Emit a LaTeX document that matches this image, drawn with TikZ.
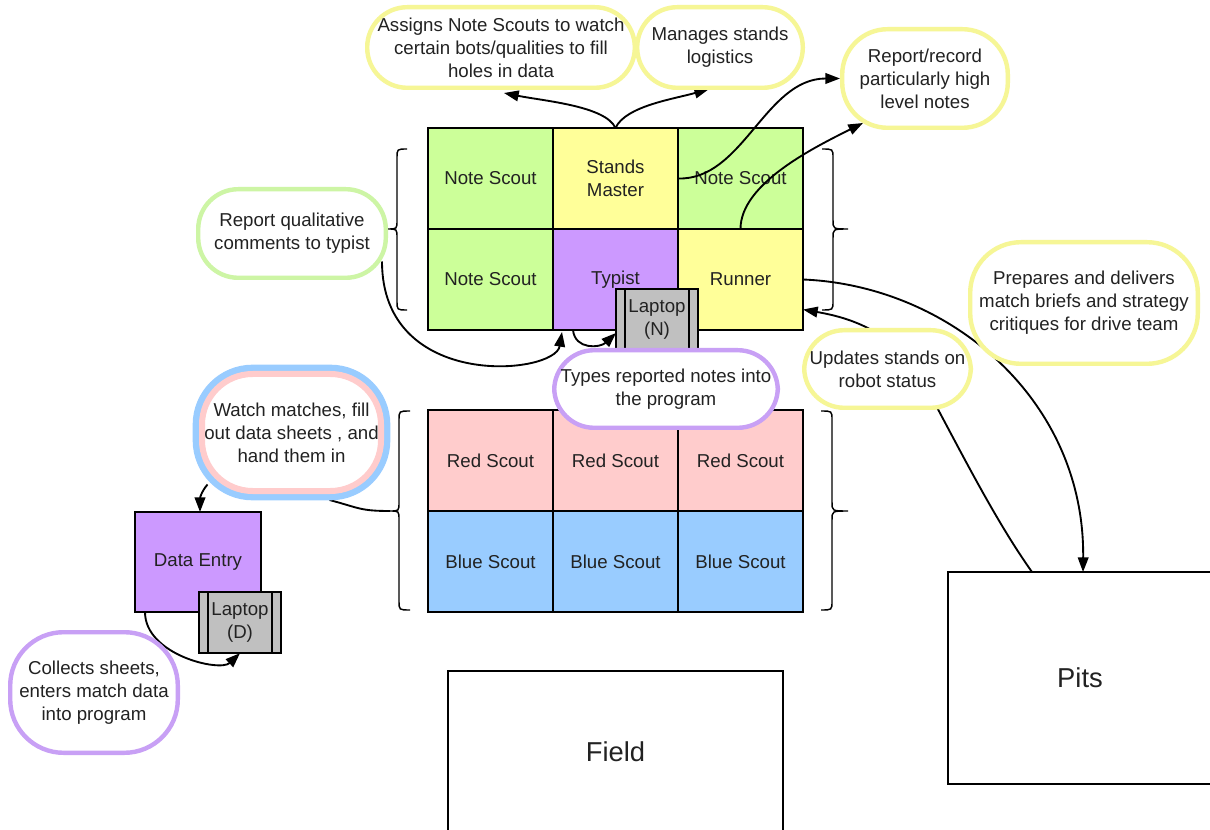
\documentclass[tikz,border=0pt]{standalone}
\usepackage{fontspec}
\setmainfont{Liberation Sans}
\usetikzlibrary{arrows.meta}
\pgfdeclarelayer{bg}
\pgfdeclarelayer{conn}
\pgfsetlayers{bg,conn,main}
\definecolor{cgreen}{RGB}{204,255,153}
\definecolor{cyellow}{RGB}{255,255,153}
\definecolor{cpurple}{RGB}{204,153,255}
\definecolor{cred}{RGB}{255,204,204}
\definecolor{cblue}{RGB}{153,204,255}
\definecolor{lgray}{RGB}{192,192,192}
\definecolor{yb}{RGB}{246,246,150}
\definecolor{gb}{RGB}{205,245,165}
\definecolor{pb}{RGB}{200,160,245}
\definecolor{txt}{RGB}{34,34,34}
\newcommand\lblfont{\fontsize{14pt}{17.25pt}\selectfont}
\newcommand\fieldfont{\fontsize{20.5pt}{24pt}\selectfont}
\begin{document}
\begin{tikzpicture}[x=0.75pt,y=-0.75pt,
  cellbox/.style={draw, line width=1.3pt, minimum width=93.75pt, minimum height=75.75pt,
    inner sep=0pt, outer sep=0pt, align=center, font=\lblfont, text=txt},
  lap/.style={draw, fill=lgray, line width=1.3pt, minimum width=61.5pt, minimum height=46pt,
    inner sep=0pt, outer sep=0pt, align=center, font=\lblfont, text=txt},
  plainbox/.style={draw, line width=1.3pt, inner sep=0pt, outer sep=0pt, font=\fieldfont, text=txt},
  callout/.style={draw, fill=white, line width=3.3pt, align=center, font=\lblfont, text=txt,
    inner sep=0pt, rounded corners=30pt},
  sz/.style 2 args={minimum width={#1*0.75pt-3.3pt}, minimum height={#2*0.75pt-3.3pt}},
  link/.style={line width=1.4pt, -{Triangle[length=11pt,width=8pt]}},
  bracestyle/.style={line width=1.1pt},
  plainlink/.style={line width=1.4pt}
]
\useasboundingbox (0,0) rectangle (1210,830);

\begin{pgfonlayer}{bg}
\fill[white] (0,0) rectangle (1210,830);
% top grid
\node[cellbox, fill=cgreen]  (ns1) at (490.5,178.5) {Note Scout};
\node[cellbox, fill=cyellow] (sm)  at (615.5,178.5) {Stands\\Master};
\node[cellbox, fill=cgreen]  (ns2) at (740.5,178.5) {Note Scout};
\node[cellbox, fill=cgreen]  (ns3) at (490.5,279.5) {Note Scout};
\node[cellbox, fill=cpurple] (typ) at (615.5,279.5) {Typist};
\node[cellbox, fill=cyellow] (run) at (740.5,279.5) {Runner};
% bottom grid
\node[cellbox, fill=cred]  (rs1) at (490.5,460.5) {Red Scout};
\node[cellbox, fill=cred]  (rs2) at (615.5,460.5) {Red Scout};
\node[cellbox, fill=cred]  (rs3) at (740.5,460.5) {Red Scout};
\node[cellbox, fill=cblue] (bs1) at (490.5,561.5) {Blue Scout};
\node[cellbox, fill=cblue] (bs2) at (615.5,561.5) {Blue Scout};
\node[cellbox, fill=cblue] (bs3) at (740.5,561.5) {Blue Scout};
% laptop N
\node[lap] (lapN) at (657,320) {Laptop\\(N)};
\draw[line width=1pt] ([shift={(9,0)}]lapN.north west) -- ([shift={(9,0)}]lapN.south west);
\draw[line width=1pt] ([shift={(-9,0)}]lapN.north east) -- ([shift={(-9,0)}]lapN.south east);
% data entry
\node[cellbox, fill=cpurple, minimum width=94.5pt, minimum height=75pt] (de) at (198,562) {Data Entry};
\node[lap] (lapD) at (240,622.5) {Laptop\\(D)};
\draw[line width=1pt] ([shift={(9,0)}]lapD.north west) -- ([shift={(9,0)}]lapD.south west);
\draw[line width=1pt] ([shift={(-9,0)}]lapD.north east) -- ([shift={(-9,0)}]lapD.south east);
% field and pits
\node[plainbox, minimum width=251.25pt, minimum height=121.5pt] (field) at (615.5,752) {Field};
\node[plainbox, minimum width=198pt, minimum height=159pt] (pits) at (1080,678) {Pits};
\end{pgfonlayer}

% callouts
\node[callout, draw=yb, sz={272}{85}] (assign) at (501,47.5) {Assigns Note Scouts to watch\\certain bots/qualities to fill\\holes in data};
\node[callout, draw=yb, sz={170}{85}] (manage) at (720,47.5) {Manages stands\\logistics};
\node[callout, draw=yb, sz={170}{103}, rounded corners=34pt] (rr) at (925,78.5) {Report/record\\particularly high\\level notes};
\node[callout, draw=gb, sz={192}{93}] (qual) at (292,233.5) {Report qualitative\\comments to typist};
\node[callout, draw=pb, sz={228}{82}] (types) at (666,389) {Types reported notes into\\the program};
\node[callout, draw=yb, sz={171}{82}] (upd) at (887.5,369) {Updates stands on\\robot status};
\node[callout, draw=yb, sz={232}{126}, rounded corners=38pt] (prep) at (1084,303) {Prepares and delivers\\match briefs and strategy\\critiques for drive team};
\node[callout, draw=cred, line width=4.5pt, minimum width=134.25pt, minimum height=87.75pt,
  rounded corners=38pt, preaction={draw=cblue, line width=14pt}] (watch) at (291.5,432.5)
  {Watch matches, fill\\out data sheets , and\\hand them in};
\node[callout, draw=pb, sz={172}{125}, rounded corners=40pt] (coll) at (94,692.5) {Collects sheets,\\enters match data\\into program};

\begin{pgfonlayer}{conn}
% braces
\coordinate (tipTL) at (388,229);
\coordinate (tipTR) at (848,229);
\coordinate (tipBL) at (390,511);
\coordinate (tipBR) at (848,511);
\draw[bracestyle] (407,149) .. controls (397,149) .. (397,158) -- (397,220) .. controls (397,229) .. (tipTL)
  .. controls (397,229) .. (397,238) -- (397,301) .. controls (397,310) .. (407,310);
\draw[bracestyle] (822,149) .. controls (833,149) .. (833,158) -- (833,220) .. controls (833,229) .. (tipTR)
  .. controls (833,229) .. (833,238) -- (833,301) .. controls (833,310) .. (822,310);
\draw[bracestyle] (410,411) .. controls (399,411) .. (399,420) -- (399,502) .. controls (399,511) .. (tipBL)
  .. controls (399,511) .. (399,520) -- (399,601) .. controls (399,610) .. (410,610);
\draw[bracestyle] (821,411) .. controls (832,411) .. (832,420) -- (832,502) .. controls (832,511) .. (tipBR)
  .. controls (832,511) .. (832,520) -- (832,601) .. controls (832,610) .. (821,610);
% connectors
\draw[link] (sm.north) .. controls +(-10,-22) and +(40,8) .. ([shift={(3,3)}]assign.south);
\draw[link] (sm.north) .. controls +(10,-22) and +(-35,10) .. ([shift={(-11,-1)}]manage.south);
\draw[link] (sm.east) .. controls +(65,2) and +(-75,0) .. (rr.west);
\draw[link] (ns2.south) .. controls +(0,-45) and +(-50,25) .. ([shift={(23,-7)}]rr.south west);
\draw[link] ([shift={(-6,28)}]qual.east) .. controls +(0,130) and +(-7,43) .. ([shift={(9,2)}]typ.south west);
\draw[link] ([shift={(20,0)}]typ.south west) .. controls +(2,20) and +(-16,15) .. ([shift={(0,13)}]lapN.west);
\draw[link] (run.east) .. controls +(147,6) and +(2,-172) .. ([shift={(3,0)}]pits.north);
\draw[link] ([shift={(84,0)}]pits.north west) .. controls +(-37,-52) and +(35,65) .. (925,385)
  .. controls +(-30,-55) and +(45,8) .. ([shift={(0,30)}]run.east);
\draw[link] ([shift={(-84,52)}]watch.center) .. controls +(-6,7) and +(0,-14) .. ([shift={(2,0)}]de.north);
\draw[link] ([shift={(10,0)}]de.south west) .. controls +(0,43) and +(-20,19) .. (lapD.south);
\draw[plainlink] ([shift={(38,6)}]watch.south) .. controls +(30,8) and +(-30,0) .. (tipBL);
\end{pgfonlayer}
\end{tikzpicture}
\end{document}
